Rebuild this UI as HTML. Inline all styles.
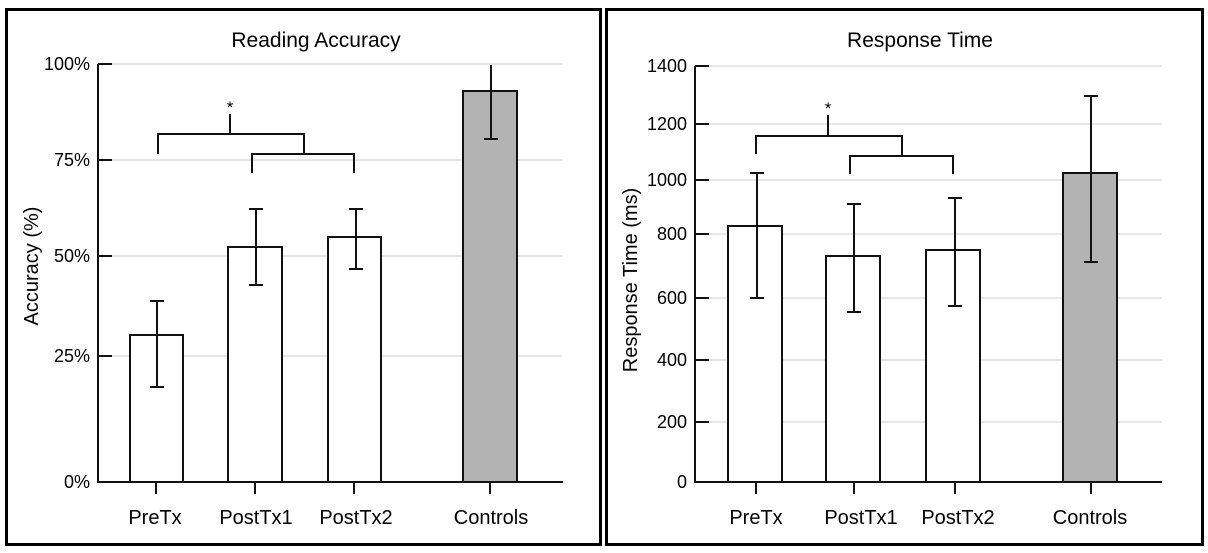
<!DOCTYPE html>
<html><head><style>
html,body{margin:0;padding:0;background:#fff;}
svg{display:block;font-family:"Liberation Sans",sans-serif;}
</style></head><body>
<svg width="1208" height="553" viewBox="0 0 1208 553" xmlns="http://www.w3.org/2000/svg">
<rect x="6.5" y="9.5" width="594" height="535" fill="none" stroke="#000" stroke-width="3"/>
<rect x="606.5" y="9.5" width="596" height="535" fill="none" stroke="#000" stroke-width="3"/>
<g stroke="#e6e6e6" stroke-width="2">
<line x1="100" y1="64" x2="562" y2="64"/><line x1="100" y1="160" x2="562" y2="160"/><line x1="100" y1="256" x2="562" y2="256"/><line x1="100" y1="356" x2="562" y2="356"/>
<line x1="697" y1="66" x2="1162" y2="66"/><line x1="697" y1="124" x2="1162" y2="124"/><line x1="697" y1="180" x2="1162" y2="180"/><line x1="697" y1="234" x2="1162" y2="234"/><line x1="697" y1="298" x2="1162" y2="298"/><line x1="697" y1="360" x2="1162" y2="360"/><line x1="697" y1="422" x2="1162" y2="422"/>
</g>
<g fill="#000">
<text x="316" y="47" text-anchor="middle" font-size="21">Reading Accuracy</text>
<text x="920" y="47" text-anchor="middle" font-size="21">Response Time</text>
</g>
<!-- left chart -->
<g stroke="#111" stroke-width="2" fill="none">
<line x1="98" y1="64" x2="98" y2="483"/><line x1="97" y1="482" x2="563" y2="482"/>
<line x1="98" y1="64" x2="112" y2="64"/><line x1="98" y1="160" x2="112" y2="160"/><line x1="98" y1="256" x2="112" y2="256"/><line x1="98" y1="356" x2="112" y2="356"/>
<line x1="156" y1="482" x2="156" y2="494"/><line x1="255" y1="482" x2="255" y2="494"/><line x1="354" y1="482" x2="354" y2="494"/><line x1="490" y1="482" x2="490" y2="494"/>
<rect x="130" y="335" width="53" height="147" fill="#fff"/>
<rect x="228" y="247" width="54" height="235" fill="#fff"/>
<rect x="328" y="237" width="53" height="245" fill="#fff"/>
<rect x="463" y="91" width="54" height="391" fill="#b3b3b3"/>
<path d="M157 301V387M150 301H164M150 387H164"/>
<path d="M256 209V285M249 209H263M249 285H263"/>
<path d="M356 209V269M349 209H363M349 269H363"/>
<path d="M491 65V139M484 139H498"/>
<path d="M158 154V134H304V154M252 173V154H354V173M230 114V134"/>
</g>
<g font-size="18" fill="#000" text-anchor="end">
<text x="90" y="70">100%</text><text x="90" y="166">75%</text><text x="90" y="262">50%</text><text x="90" y="362">25%</text><text x="90" y="488">0%</text>
</g>
<text x="230" y="113" font-size="17" text-anchor="middle">*</text>
<g font-size="20" text-anchor="middle">
<text x="155" y="524">PreTx</text><text x="256" y="524">PostTx1</text><text x="356" y="524">PostTx2</text><text x="491" y="524">Controls</text>
<text transform="translate(38,266) rotate(-90)">Accuracy (%)</text>
</g>
<!-- right chart -->
<g stroke="#111" stroke-width="2" fill="none">
<line x1="695" y1="66" x2="695" y2="483"/><line x1="694" y1="482" x2="1162" y2="482"/>
<line x1="695" y1="66" x2="709" y2="66"/><line x1="695" y1="124" x2="709" y2="124"/><line x1="695" y1="180" x2="709" y2="180"/><line x1="695" y1="234" x2="709" y2="234"/><line x1="695" y1="298" x2="709" y2="298"/><line x1="695" y1="360" x2="709" y2="360"/><line x1="695" y1="422" x2="709" y2="422"/>
<line x1="756" y1="482" x2="756" y2="494"/><line x1="854" y1="482" x2="854" y2="494"/><line x1="955" y1="482" x2="955" y2="494"/><line x1="1091" y1="482" x2="1091" y2="494"/>
<rect x="728" y="226" width="54" height="256" fill="#fff"/>
<rect x="826" y="256" width="54" height="226" fill="#fff"/>
<rect x="926" y="250" width="54" height="232" fill="#fff"/>
<rect x="1063" y="173" width="54" height="309" fill="#b3b3b3"/>
<path d="M757 173V298M750 173H764M750 298H764"/>
<path d="M854 204V312M847 204H861M847 312H861"/>
<path d="M955 198V306M948 198H962M948 306H962"/>
<path d="M1091 96V262M1084 96H1098M1084 262H1098"/>
<path d="M756 154V136H902V156M850 174V156H953V174M828 115V136"/>
</g>
<g font-size="18" fill="#000" text-anchor="end">
<text x="687" y="72">1400</text><text x="687" y="130">1200</text><text x="687" y="186">1000</text><text x="687" y="240">800</text><text x="687" y="304">600</text><text x="687" y="366">400</text><text x="687" y="428">200</text><text x="687" y="488">0</text>
</g>
<text x="828" y="114" font-size="17" text-anchor="middle">*</text>
<g font-size="20" text-anchor="middle">
<text x="756" y="524">PreTx</text><text x="861" y="524">PostTx1</text><text x="958" y="524">PostTx2</text><text x="1090" y="524">Controls</text>
<text transform="translate(637,280) rotate(-90)">Response Time (ms)</text>
</g>
</svg>
</body></html>
